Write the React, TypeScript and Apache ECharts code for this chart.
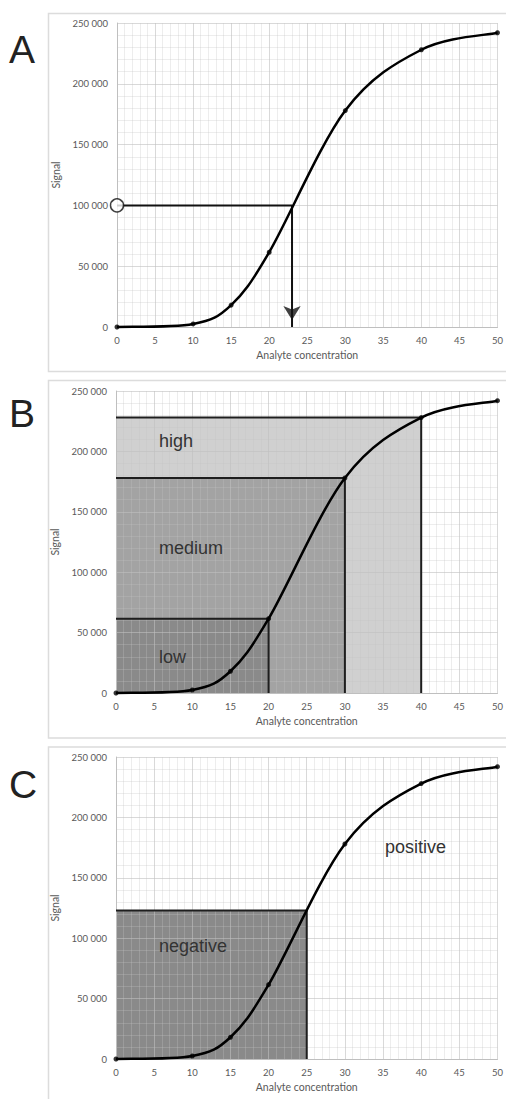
import React, { useEffect, useRef } from "react";
import * as echarts from "echarts";

// ---- data ----
const concentration = [0, 10, 15, 20, 30, 40, 50];
const signal = [0, 2500, 18000, 61500, 178000, 228000, 242000];

const xTicks = { min: 0, max: 50, interval: 5 };
const yTicks = { min: 0, max: 250000, interval: 50000 };

// panel A: read-off of an unknown sample
const sampleSignal = 100000;
const sampleConc = 23;

// panel B: categories
const bandNames = ["high", "medium", "low"];
const bandConc = [40, 30, 20];
const bandSignal = [228000, 178000, 61500];
const bandColors = ["#d0d0d0", "#a3a3a3", "#8a8a8a"];

// panel C: cut-off
const cutoffNames = ["negative", "positive"];
const cutoffConc = 25;
const cutoffSignal = 123000;

const fmt = (v: number) => String(v).replace(/\B(?=(\d{3})+(?!\d))/g, " ");

const grids = [
  { left: 117, top: 23, width: 384, height: 304 },
  { left: 116, top: 391, width: 384, height: 302 },
  { left: 116, top: 757, width: 385, height: 302 },
];

const tickFont = { fontFamily: "Lato", fontSize: 9.5, color: "#595959" };

function makeX(i: number) {
  return {
    type: "value",
    gridIndex: i,
    ...xTicks,
    z: 3,
    name: "Analyte concentration",
    nameLocation: "middle",
    nameGap: 22,
    nameTextStyle: { fontFamily: "Lato", fontSize: 10.5, color: "#595959" },
    axisLine: { show: true, lineStyle: { color: "#bfbfbf", width: 1 } },
    axisTick: { show: false },
    axisLabel: { ...tickFont, margin: 8 },
    splitLine: { show: true, lineStyle: { color: "rgba(191,191,191,0.6)", width: 1 } },
    minorTick: { show: false, splitNumber: 5 },
    minorSplitLine: { show: true, lineStyle: { color: "rgba(196,196,196,0.3)", width: 1 } },
  };
}

function makeY(i: number) {
  return {
    type: "value",
    gridIndex: i,
    ...yTicks,
    z: 3,
    name: "Signal",
    nameLocation: "middle",
    nameGap: 46,
    nameTextStyle: { fontFamily: "Lato", fontSize: 10.5, color: "#595959" },
    axisLine: { show: true, lineStyle: { color: "#bfbfbf", width: 1 } },
    axisTick: { show: false },
    axisLabel: { ...tickFont, margin: 9, formatter: (v: number) => fmt(v) },
    splitLine: { show: true, lineStyle: { color: "rgba(191,191,191,0.6)", width: 1 } },
    minorTick: { show: false, splitNumber: 5 },
    minorSplitLine: { show: true, lineStyle: { color: "rgba(196,196,196,0.3)", width: 1 } },
  };
}

const curveData = concentration.map((c, i) => [c, signal[i]]);

// smooth curve (Catmull-Rom style bezier, like a spreadsheet's smoothed line)
function curveSeries(i: number) {
  return {
    type: "custom",
    xAxisIndex: i,
    yAxisIndex: i,
    data: curveData,
    z: 6,
    renderItem: (params: any, api: any) => {
      const k = params.dataIndex;
      const n = curveData.length;
      if (k >= n - 1) return null;
      const P = curveData.map((d) => api.coord(d));
      const p0 = P[Math.max(0, k - 1)];
      const p1 = P[k];
      const p2 = P[k + 1];
      const p3 = P[Math.min(n - 1, k + 2)];
      const c1 = [p1[0] + (p2[0] - p0[0]) / 6, p1[1] + (p2[1] - p0[1]) / 6];
      const c2 = [p2[0] - (p3[0] - p1[0]) / 6, p2[1] - (p3[1] - p1[1]) / 6];
      return {
        type: "bezierCurve",
        shape: {
          x1: p1[0], y1: p1[1],
          cpx1: c1[0], cpy1: c1[1],
          cpx2: c2[0], cpy2: c2[1],
          x2: p2[0], y2: p2[1],
        },
        style: { stroke: "#000", lineWidth: 2.5, fill: "none" },
      };
    },
  };
}

function markerSeries(i: number) {
  return {
    type: "scatter",
    xAxisIndex: i,
    yAxisIndex: i,
    data: curveData,
    symbol: "circle",
    symbolSize: 5,
    itemStyle: { color: "#000" },
    z: 7,
  };
}

function rectSeries(i: number, x: number, y: number, color: string, z: number) {
  return {
    type: "custom",
    xAxisIndex: i,
    yAxisIndex: i,
    z,
    data: [[x, y]],
    renderItem: (params: any, api: any) => {
      const p0 = api.coord([0, api.value(1)]);
      const p1 = api.coord([api.value(0), 0]);
      return {
        type: "rect",
        shape: { x: p0[0], y: p0[1], width: p1[0] - p0[0], height: p1[1] - p0[1] },
        style: { fill: color },
      };
    },
  };
}

function borderSeries(i: number, x: number, y: number) {
  return {
    type: "line",
    xAxisIndex: i,
    yAxisIndex: i,
    data: [
      [0, y],
      [x, y],
      [x, 0],
    ],
    symbol: "none",
    lineStyle: { color: "#1e1e1e", width: 2 },
    z: 5,
  };
}

const labelFont = { fontFamily: "Liberation Sans", fontSize: 18, fill: "#333" };

export default function App() {
  const ref = useRef<HTMLDivElement>(null);
  useEffect(() => {
    if (!ref.current) return;
    const chart = echarts.init(ref.current, undefined, { renderer: "svg" });
    const series: any[] = [];
    // Panel A
    series.push(curveSeries(0), markerSeries(0));
    series.push({
      type: "line",
      xAxisIndex: 0,
      yAxisIndex: 0,
      data: [
        [0, sampleSignal],
        [sampleConc, sampleSignal],
        [sampleConc, 0],
      ],
      symbol: "none",
      lineStyle: { color: "#111", width: 2 },
      z: 5,
    });
    series.push({
      type: "scatter",
      xAxisIndex: 0,
      yAxisIndex: 0,
      data: [[sampleConc, 0]],
      symbol: "arrow",
      symbolSize: [13, 14],
      symbolRotate: 180,
      symbolOffset: [0, -7],
      itemStyle: { color: "#111" },
      z: 8,
    });
    series.push({
      type: "scatter",
      xAxisIndex: 0,
      yAxisIndex: 0,
      data: [[0, sampleSignal]],
      symbol: "circle",
      symbolSize: 13,
      itemStyle: { color: "#fff", borderColor: "#111", borderWidth: 1.5 },
      z: 8,
    });
    // Panel B
    bandConc.forEach((c, k) => {
      series.push(rectSeries(1, c, bandSignal[k], bandColors[k], 1 + k * 0.1));
      series.push(borderSeries(1, c, bandSignal[k]));
    });
    series.push(curveSeries(1), markerSeries(1));
    // Panel C
    series.push(rectSeries(2, cutoffConc, cutoffSignal, "#8a8a8a", 1));
    series.push(borderSeries(2, cutoffConc, cutoffSignal));
    series.push(curveSeries(2), markerSeries(2));

    const boxes = [
      { y: 13.5, h: 358 },
      { y: 380.5, h: 357.5 },
      { y: 747, h: 400 },
    ];
    const letters = [
      { t: "A", y: 49 },
      { t: "B", y: 413 },
      { t: "C", y: 784 },
    ];
    const texts = [
      { t: bandNames[0], x: 159, y: 441 },
      { t: bandNames[1], x: 159, y: 548 },
      { t: bandNames[2], x: 159, y: 657 },
      { t: cutoffNames[0], x: 159, y: 946 },
      { t: cutoffNames[1], x: 385, y: 847 },
    ];

    chart.setOption({
      animation: false,
      backgroundColor: "#fff",
      grid: grids,
      xAxis: grids.map((_, i) => makeX(i)),
      yAxis: grids.map((_, i) => makeY(i)),
      series,
      graphic: [
        ...boxes.map((b) => ({
          type: "rect",
          z: -10,
          shape: { x: 48.5, y: b.y, width: 500, height: b.h },
          style: { fill: "none", stroke: "#dcdcdc", lineWidth: 1.5 },
        })),
        ...letters.map((l) => ({
          type: "text",
          x: 9,
          y: l.y,
          style: {
            text: l.t,
            fontFamily: "Liberation Sans",
            fontSize: 39,
            fill: "#222",
            verticalAlign: "middle",
          },
        })),
        ...texts.map((l) => ({
          type: "text",
          x: l.x,
          y: l.y,
          z: 20,
          style: { text: l.t, ...labelFont, verticalAlign: "middle" },
        })),
      ],
    });
    return () => chart.dispose();
  }, []);
  return (
    <div
      ref={ref}
      style={{ position: "absolute", left: 0, top: 0, width: 506, height: 1099 }}
    />
  );
}
